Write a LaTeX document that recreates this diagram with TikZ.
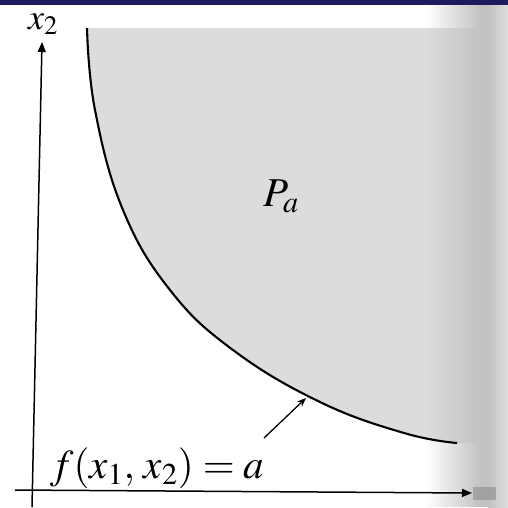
\documentclass[tikz,border=0pt]{standalone}
\usepackage{mathptmx}
\usetikzlibrary{arrows.meta}
\definecolor{navybar}{HTML}{1B1B5E}
\definecolor{pashade}{HTML}{DCDCDA}
\begin{document}
\begin{tikzpicture}[x=1pt,y=-1pt,
  axis/.style={line width=1.5pt,-{Triangle[length=10pt,width=8pt]}},
  lbl/.style={inner sep=0pt,font=\fontsize{41}{46}\selectfont},
  pointer/.style={line width=1.3pt,-{Stealth[length=9pt,width=7pt]}},
  bound/.style={line width=2.1pt}]
\def\curvepts{(87,28) (95,110) (123,210) (170,290) (233,350) (320,402) (404,433) (457,443)}
\useasboundingbox (0,0) rectangle (508,507);
\fill[white] (0,0) rectangle (508,507);
% shaded set P_a
\fill[pashade] plot[smooth,tension=0.7] coordinates {\curvepts}
  -- (478,443) -- (478,28) -- cycle;
% scan gradient on the right
\foreach \i in {0,...,26}{
  \fill[black!24,opacity=\i/27] ({426+2*\i},5) rectangle ({428.3+2*\i},507);
}
\fill[black!24] (480,5) rectangle (488,507);
\shade[left color=black!24,right color=black!13] (488,5) rectangle (508,507);
% boundary curve
\draw[bound] plot[smooth,tension=0.7] coordinates {\curvepts};
% axes
\coordinate (yb) at (32,507);
\coordinate (yt) at (42,42);
\coordinate (xl) at (15,490);
\coordinate (xr) at (472,493);
\draw[axis] (yb) -- (yt);
\draw[axis] (xl) -- (xr);
% blurred remnant beyond the x axis arrow
\fill[black!45,opacity=0.6] (473,487) rectangle (496,500);
% labels
\node[lbl,font=\fontsize{36}{40}\selectfont] (x2) at (43,24) {$x_2$};
\node[lbl] (pa) at (281,196) {$P_a$};
\node[lbl,anchor=base west] (eq) at (50,478) {$f(x_1,\,x_2)=a$};
% pointer arrow
\coordinate (ps) at (264,438);
\coordinate (pe) at (306,398);
\draw[pointer] (ps) -- (pe);
% top bar
\fill[navybar] (0,0) rectangle (508,5);
\end{tikzpicture}
\end{document}
